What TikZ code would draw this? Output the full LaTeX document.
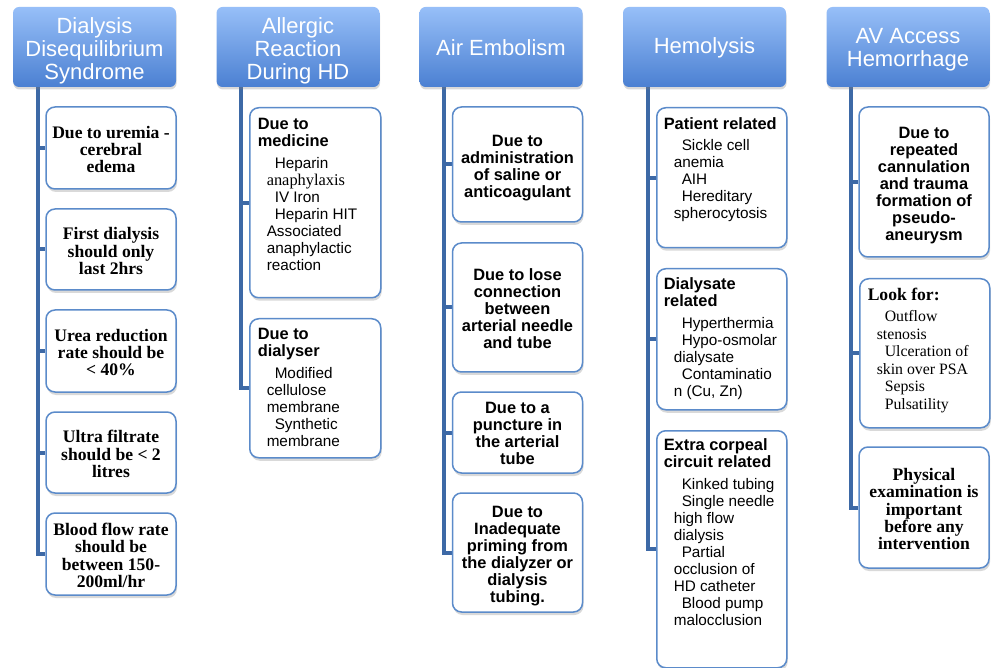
\documentclass[tikz,border=0pt]{standalone}
\usepackage{fontspec}
\newfontfamily\arial{Liberation Sans}
\newfontfamily\tnr{Liberation Serif}
\usetikzlibrary{shadows,backgrounds}
\definecolor{hdtop}{HTML}{97BFF8}
\definecolor{hdbot}{HTML}{4B80D2}
\definecolor{conn}{HTML}{3D69A6}
\definecolor{bord}{HTML}{5B8BCA}
\newcommand\SB{\arial\bfseries\fontsize{16.4}{17}\selectfont}
\newcommand\SR{\arial\mdseries\fontsize{15.3}{17}\selectfont}
\newcommand\RB{\tnr\bfseries\fontsize{17.6}{17.3}\selectfont}
\newcommand\RR{\tnr\mdseries\fontsize{15.8}{17.5}\selectfont}
\newcommand\RRa{\tnr\mdseries\fontsize{16.4}{17}\selectfont}
\newcommand\ind{\hspace*{8pt}}
% text block lowered by #1 without changing the size that centers it
\newcommand\ctx[3]{\raisebox{#1}[\height][\depth]{\parbox{#2}{\centering #3}}}
\tikzset{
  hdr/.style={rounded corners=6pt, top color=hdtop, bottom color=hdbot,
    minimum width=163pt, minimum height=80pt, align=center,
    text=white, font=\arial\fontsize{22}{22.7}\selectfont, inner sep=0pt,
    drop shadow={shadow xshift=0.5pt, shadow yshift=-2.5pt, opacity=0.3}},
  bx/.style={draw=bord, line width=1.5pt, rounded corners=9pt, fill=white,
    minimum width=130pt, inner sep=0pt,
    drop shadow={shadow xshift=1pt, shadow yshift=-3pt, opacity=0.3}},
  cbx/.style={bx},
  cn/.style={draw=conn, line width=4pt},
}
\begin{document}
\begin{tikzpicture}[x=1pt,y=-1pt]
\useasboundingbox (0,0) rectangle (991,668);

% headers
\node[hdr] (h1) at (94.5,47) {\ctx{-4pt}{160pt}{Dialysis\\Disequilibrium\\Syndrome}};
\node[hdr] (h2) at (298,47) {\ctx{-4pt}{160pt}{Allergic\\Reaction\\During HD}};
\node[hdr] (h3) at (501,47) {\ctx{-1pt}{160pt}{Air Embolism}};
\node[hdr] (h4) at (704.5,47) {\ctx{-1pt}{160pt}{Hemolysis}};
\node[hdr] (h5) at (908,47) {\ctx{-3pt}{160pt}{AV Access\\Hemorrhage}};

% column 1
\node[cbx, minimum height=82pt, font=\RB] (b11) at (111,148) {\ctx{-1.5pt}{126pt}{Due to uremia -\\cerebral\\edema}};
\node[cbx, minimum height=81pt, font=\RB] (b12) at (111,249.5) {\ctx{-1.5pt}{126pt}{First dialysis\\should only\\last 2hrs}};
\node[cbx, minimum height=82pt, font=\RB] (b13) at (111,351) {\ctx{-1.5pt}{126pt}{Urea reduction\\rate should be\\< 40\%}};
\node[cbx, minimum height=81pt, font=\RB] (b14) at (111,452.5) {\ctx{-1.5pt}{126pt}{Ultra filtrate\\should be < 2\\litres}};
\node[cbx, minimum height=82pt, font=\RB] (b15) at (111,554) {\ctx{-1.5pt}{126pt}{Blood flow rate\\should be\\between 150-\\200ml/hr}};

% column 2
\node[bx, anchor=north west] (b21) at (249,107) {\parbox[c][190pt][t]{131pt}{\raggedright\leftskip=8pt
\vspace*{10pt}{\SB Due to\\medicine\par}\vspace{5pt}
{\SR\leftskip=17pt
\ind Heparin\\{\RRa anaphylaxis}\\
\ind IV Iron\\
\ind Heparin HIT\\
Associated\\anaphylactic\\reaction\par}}};
\node[bx, anchor=north west] (b22) at (249,318) {\parbox[c][139pt][t]{131pt}{\raggedright\leftskip=8pt
\vspace*{9pt}{\SB Due to\\dialyser\par}\vspace{5pt}
{\SR\leftskip=17pt
\ind Modified\\cellulose\\membrane\\
\ind Synthetic\\membrane\par}}};

% column 3
\node[cbx, minimum height=115pt, font=\SB] (b31) at (517.5,164.5) {\ctx{-3.5pt}{124pt}{Due to\\administration\\of saline or\\anticoagulant}};
\node[cbx, minimum height=129pt, font=\SB] (b32) at (517.5,307.5) {\ctx{-1pt}{124pt}{Due to lose\\connection\\between\\arterial needle\\and tube}};
\node[cbx, minimum height=81pt, font=\SB] (b33) at (517.5,432.5) {\ctx{-0.5pt}{124pt}{Due to a\\puncture in\\the arterial\\tube}};
\node[cbx, minimum height=119pt, font=\SB] (b34) at (517.5,552.5) {\ctx{-3.5pt}{124pt}{Due to\\Inadequate\\priming from\\the dialyzer or\\dialysis\\tubing.}};

% column 4
\node[bx, anchor=north west] (b41) at (656,107) {\parbox[c][140pt][t]{130pt}{\raggedright\leftskip=7pt
\vspace*{10pt}{\SB Patient related\par}\vspace{4pt}
{\SR\leftskip=17pt
\ind Sickle cell\\anemia\\
\ind AIH\\
\ind Hereditary\\spherocytosis\par}}};
\node[bx, anchor=north west] (b42) at (656,268) {\parbox[c][141pt][t]{130pt}{\raggedright\leftskip=7pt
\vspace*{9pt}{\SB Dialysate\\related\par}\vspace{5pt}
{\SR\leftskip=17pt
\ind Hyperthermia\\
\ind Hypo-osmolar\\dialysate\\
\ind Contaminatio\\n (Cu, Zn)\par}}};
\node[bx, anchor=north west] (b43) at (656,430) {\parbox[c][237pt][t]{130pt}{\raggedright\leftskip=7pt
\vspace*{8pt}{\SB Extra corpeal\\circuit related\par}\vspace{5pt}
{\SR\leftskip=17pt
\ind Kinked tubing\\
\ind Single needle\\high flow\\dialysis\\
\ind Partial\\occlusion of\\HD catheter\\
\ind Blood pump\\malocclusion\par}}};

% column 5
\node[cbx, minimum height=150pt, font=\SB] (b51) at (924,182) {\ctx{-3.5pt}{124pt}{Due to\\repeated\\cannulation\\and trauma\\formation of\\pseudo-\\aneurysm}};
\node[bx, anchor=north west] (b52) at (859,278) {\parbox[c][149pt][t]{130pt}{\raggedright\leftskip=8pt
\vspace*{9pt}{\RB Look for:\par}\vspace{4pt}
{\RR\leftskip=17pt
\ind Outflow\\stenosis\\
\ind Ulceration of\\skin over PSA\\
\ind Sepsis\\
\ind Pulsatility\par}}};
\node[cbx, minimum height=121pt, font=\RB] (b53) at (924,507.5) {\ctx{-1.5pt}{126pt}{Physical\\examination is\\important\\before any\\intervention}};

% connectors
\begin{pgfonlayer}{background}
\foreach \h/\b in {h1/b11,h1/b12,h1/b13,h1/b14,h1/b15,
                   h2/b21,h2/b22,
                   h3/b31,h3/b32,h3/b33,h3/b34,
                   h4/b41,h4/b42,h4/b43,
                   h5/b51,h5/b52,h5/b53}
  \draw[cn] (\h.south west) ++(25,0) |- (\b.west);
\end{pgfonlayer}
\end{tikzpicture}
\end{document}
